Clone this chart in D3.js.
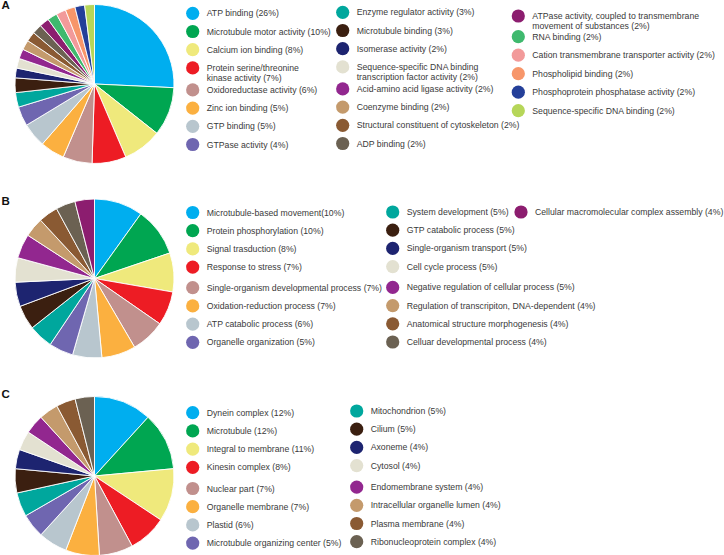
<!DOCTYPE html>
<html>
<head>
<meta charset="utf-8">
<script src="https://cdn.jsdelivr.net/npm/d3@7/dist/d3.min.js"></script>
<style>
  html, body { margin: 0; padding: 0; background: #fff; }
  svg { display: block; }
  text { font-family: "Liberation Sans", Arial, Helvetica, sans-serif; }
</style>
</head>
<body>
<svg id="chart" width="724" height="555"></svg>
<script>
// ---------- DATA ----------
const aLabels = [
  "ATP binding (26%)",
  "Microtubule motor activity (10%)",
  "Calcium ion binding (8%)",
  "Protein serine/threonine\nkinase activity (7%)",
  "Oxidoreductase activity (6%)",
  "Zinc ion binding (5%)",
  "GTP binding (5%)",
  "GTPase activity (4%)",
  "Enzyme regulator activity (3%)",
  "Microtubule binding (3%)",
  "Isomerase activity (2%)",
  "Sequence-specific DNA binding\ntranscription factor activity (2%)",
  "Acid-amino acid ligase activity (2%)",
  "Coenzyme binding (2%)",
  "Structural constituent of cytoskeleton (2%)",
  "ADP binding (2%)",
  "ATPase activity, coupled to transmembrane\nmovement of substances (2%)",
  "RNA binding (2%)",
  "Cation transmembrane transporter activity (2%)",
  "Phospholipid binding (2%)",
  "Phosphoprotein phosphatase activity (2%)",
  "Sequence-specific DNA binding (2%)"
];
const aValues = [26, 10, 8, 7, 6, 5, 5, 4, 3, 3, 2, 2, 2, 2, 2, 2, 2, 2, 2, 2, 2, 2];
const aColors = ["#00aeef", "#00a651", "#efe97c", "#ed1c24", "#c1908d", "#fbb040", "#b8c6ce", "#6f66b0",
                 "#00a79d", "#3b1f10", "#1d2470", "#e3e1d1", "#92278f", "#c49a6c", "#8a5a33", "#6b6152",
                 "#8c1d6f", "#3fb96e", "#f29a9a", "#f7966a", "#243f99", "#b6d659"];

const bLabels = [
  "Microtubule-based movement(10%)",
  "Protein phosphorylation (10%)",
  "Signal trasduction (8%)",
  "Response to stress (7%)",
  "Single-organism developmental process (7%)",
  "Oxidation-reduction process (7%)",
  "ATP catabolic process (6%)",
  "Organelle organization (5%)",
  "System development (5%)",
  "GTP catabolic process (5%)",
  "Single-organism transport (5%)",
  "Cell cycle process (5%)",
  "Negative regulation of cellular process (5%)",
  "Regulation of transcripiton, DNA-dependent (4%)",
  "Anatomical structure morphogenesis (4%)",
  "Celluar developmental process (4%)",
  "Cellular macromolecular complex assembly (4%)"
];
const bValues = [10, 10, 8, 7, 7, 7, 6, 5, 5, 5, 5, 5, 5, 4, 4, 4, 4];
const bColors = ["#00aeef", "#00a651", "#efe97c", "#ed1c24", "#c1908d", "#fbb040", "#b8c6ce", "#6f66b0",
                 "#00a79d", "#3b1f10", "#1d2470", "#e3e1d1", "#92278f", "#c49a6c", "#8a5a33", "#6b6152",
                 "#8c1d6f"];

const cLabels = [
  "Dynein complex (12%)",
  "Microtubule (12%)",
  "Integral to membrane (11%)",
  "Kinesin complex (8%)",
  "Nuclear part (7%)",
  "Organelle membrane (7%)",
  "Plastid (6%)",
  "Microtubule organizing center (5%)",
  "Mitochondrion (5%)",
  "Cilium (5%)",
  "Axoneme (4%)",
  "Cytosol (4%)",
  "Endomembrane system (4%)",
  "Intracellular organelle lumen (4%)",
  "Plasma membrane (4%)",
  "Ribonucleoprotein complex (4%)"
];
const cValues = [12, 12, 11, 8, 7, 7, 6, 5, 5, 5, 4, 4, 4, 4, 4, 4];
const cColors = ["#00aeef", "#00a651", "#efe97c", "#ed1c24", "#c1908d", "#fbb040", "#b8c6ce", "#6f66b0",
                 "#00a79d", "#3b1f10", "#1d2470", "#e3e1d1", "#92278f", "#c49a6c", "#8a5a33", "#6b6152"];

const panelLetters = ["A", "B", "C"];

// ---------- LAYOUT ----------
// gap is added to rows with index >= gapAt
const panels = [
  { letter: panelLetters[0], labels: aLabels, values: aValues, colors: aColors,
    cx: 94.5, cy: 84, letterY: 9,
    cols: [ {x: 192.7, y: 13.3, start: 0, end: 8, step: 18.2, gap: 3.8, gapAt: 4},
            {x: 342.7, y: 12.3, start: 8, end: 16, step: 18.2, gap: 3.8, gapAt: 4},
            {x: 518.3, y: 16, start: 16, end: 22, step: 18.5, gap: 2.2, gapAt: 1} ] },
  { letter: panelLetters[1], labels: bLabels, values: bValues, colors: bColors,
    cx: 94.5, cy: 278.5, letterY: 205,
    cols: [ {x: 192.7, y: 212.5, start: 0, end: 8, step: 18.2, gap: 2.4, gapAt: 4},
            {x: 392.7, y: 212, start: 8, end: 16, step: 18.2, gap: 2.6, gapAt: 4},
            {x: 521, y: 212, start: 16, end: 17, step: 18.2, gap: 0, gapAt: 4} ] },
  { letter: panelLetters[2], labels: cLabels, values: cValues, colors: cColors,
    cx: 94.5, cy: 476, letterY: 398,
    cols: [ {x: 192.7, y: 412.7, start: 0, end: 8, step: 18.2, gap: 3, gapAt: 4},
            {x: 356.7, y: 411, start: 8, end: 16, step: 18.2, gap: 3.3, gapAt: 4} ] }
];

const R = 79.5;
const svg = d3.select("#chart");

const pie = d3.pie().sort(null).value(d => d);
const arc = d3.arc().innerRadius(0).outerRadius(R);

panels.forEach(p => {
  svg.append("text")
    .attr("x", 1.5).attr("y", p.letterY)
    .attr("font-size", 11.5).attr("font-weight", "bold")
    .attr("fill", "#111")
    .text(p.letter);

  const g = svg.append("g").attr("transform", `translate(${p.cx},${p.cy})`);
  g.selectAll("path")
    .data(pie(p.values))
    .join("path")
    .attr("d", arc)
    .attr("fill", (d, i) => p.colors[i])
    .attr("stroke", "#fff")
    .attr("stroke-width", 0.9)
    .attr("stroke-linejoin", "round");

  p.cols.forEach(col => {
    for (let i = col.start; i < col.end; i++) {
      const k = i - col.start;
      const y = col.y + k * col.step + (k >= col.gapAt ? col.gap : 0);
      svg.append("circle")
        .attr("cx", col.x).attr("cy", y).attr("r", 6.6)
        .attr("fill", p.colors[i]);
      const lines = p.labels[i].split("\n");
      const t = svg.append("text")
        .attr("x", col.x + 14).attr("y", y)
        .attr("font-size", 8.7)
        .attr("fill", "#3a3a3a");
      lines.forEach((ln, j) => {
        t.append("tspan")
          .attr("x", col.x + 14)
          .attr("dy", j === 0 ? "0.35em" : 10)
          .text(ln);
      });
    }
  });
});
</script>
</body>
</html>
